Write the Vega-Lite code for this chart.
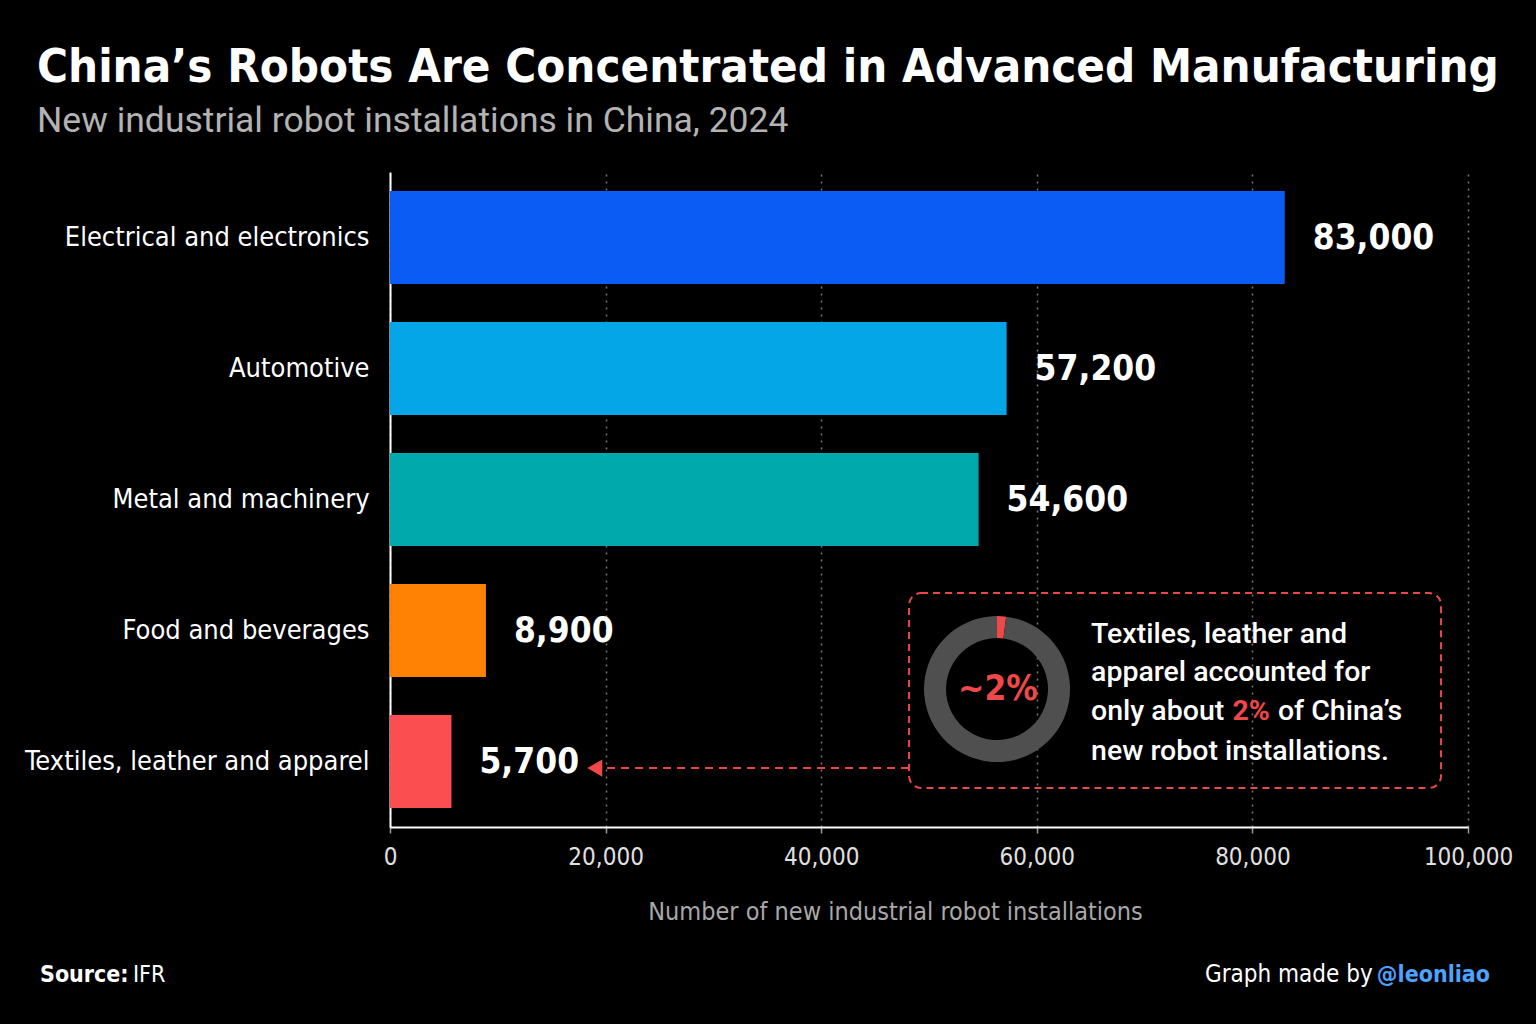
{
  "$schema": "https://vega.github.io/schema/vega-lite/v6.json",
  "width": 1078,
  "height": 655,
  "autosize": {"type": "none"},
  "padding": {"left": 390, "top": 172, "right": 68, "bottom": 197},
  "background": "#000000",
  "config": {"view": {"stroke": null}, "font": "DejaVu Sans Condensed"},
  "title": {
    "text": "China’s Robots Are Concentrated in Advanced Manufacturing",
    "subtitle": "New industrial robot installations in China, 2024",
    "anchor": "start",
    "frame": "group",
    "dx": -353,
    "font": "DejaVu Sans Condensed",
    "fontSize": 47,
    "fontWeight": "bold",
    "color": "#ffffff",
    "subtitleFont": "Roboto",
    "subtitleFontSize": 35.5,
    "subtitleColor": "#b3b3b3",
    "subtitlePadding": 12,
    "offset": 32
  },
  "datasets": {
    "sectors": [
      {"sector": "Electrical and electronics", "installations": 83000},
      {"sector": "Automotive", "installations": 57200},
      {"sector": "Metal and machinery", "installations": 54600},
      {"sector": "Food and beverages", "installations": 8900},
      {"sector": "Textiles, leather and apparel", "installations": 5700}
    ],
    "donut": [
      {"part": "Textiles, leather and apparel", "share": 2},
      {"part": "Other sectors", "share": 98}
    ]
  },
  "layer": [
    {
      "data": {"name": "sectors"},
      "encoding": {
        "y": {
          "field": "sector",
          "type": "nominal",
          "sort": null,
          "scale": {"paddingInner": 0.29, "paddingOuter": 0.145},
          "axis": {
            "title": null,
            "labelFont": "DejaVu Sans Condensed",
            "labelFontSize": 27,
            "labelColor": "#ffffff",
            "labelPadding": 21,
            "labelLimit": 400,
            "ticks": false,
            "domainColor": "#ffffff",
            "domainWidth": 2
          }
        },
        "x": {
          "field": "installations",
          "type": "quantitative",
          "scale": {"domain": [0, 100000], "nice": false},
          "axis": {
            "title": "Number of new industrial robot installations",
            "titleFont": "DejaVu Sans Condensed",
            "titleFontSize": 25,
            "titleFontWeight": "normal",
            "titleColor": "#a8a8a8",
            "titlePadding": 30,
            "titleX": 505,
            "labelFont": "DejaVu Sans Condensed",
            "labelFontSize": 24,
            "labelColor": "#e0e0e0",
            "labelPadding": 12,
            "labelFlush": false,
            "ticks": true,
            "tickSize": 6,
            "tickColor": "#9a9a9a",
            "tickWidth": 1.5,
            "domainColor": "#ffffff",
            "domainWidth": 2,
            "grid": true,
            "gridColor": "#777777",
            "gridDash": [2, 5],
            "gridWidth": 1.5,
            "values": [0, 20000, 40000, 60000, 80000, 100000],
            "format": ",.0f"
          }
        }
      },
      "layer": [
        {
          "mark": {"type": "bar"},
          "encoding": {
            "color": {
              "field": "sector",
              "type": "nominal",
              "legend": null,
              "scale": {
                "domain": ["Electrical and electronics", "Automotive", "Metal and machinery", "Food and beverages", "Textiles, leather and apparel"],
                "range": ["#0a5cf5", "#05a6e8", "#00a9ac", "#ff8205", "#fa4e50"]
              }
            }
          }
        },
        {
          "mark": {"type": "text", "align": "left", "baseline": "middle", "dx": 28, "font": "DejaVu Sans Condensed", "fontSize": 35, "fontWeight": "bold", "color": "#ffffff"},
          "encoding": {
            "text": {"field": "installations", "type": "quantitative", "format": ",.0f"}
          }
        }
      ]
    },
    {
      "data": {"values": [{"note": "callout"}]},
      "encoding": {
        "x": {"datum": 0, "type": "quantitative", "scale": {"domain": [0, 100000], "nice": false, "zero": false}, "axis": null},
        "y": {"datum": 0, "type": "quantitative", "scale": {"domain": [0, 5], "nice": false, "zero": false}, "axis": null}
      },
      "layer": [
        {
          "mark": {"type": "rect", "fill": null, "fillOpacity": 0, "stroke": "#e84848", "strokeWidth": 2, "strokeDash": [7, 5], "cornerRadius": 12},
          "encoding": {
            "x": {"datum": 48150, "type": "quantitative", "axis": null},
            "x2": {"datum": 97500},
            "y": {"datum": 1.786, "type": "quantitative", "axis": null},
            "y2": {"datum": 0.298}
          }
        },
        {
          "mark": {"type": "rule", "stroke": "#e84848", "strokeWidth": 2, "strokeDash": [8, 6]},
          "encoding": {
            "x": {"datum": 48150, "type": "quantitative", "axis": null},
            "x2": {"datum": 19600},
            "y": {"datum": 0.45, "type": "quantitative", "axis": null}
          }
        },
        {
          "mark": {"type": "point", "shape": "triangle-left", "filled": true, "size": 300, "color": "#f04848", "opacity": 1},
          "encoding": {
            "x": {"datum": 19000, "type": "quantitative", "axis": null},
            "y": {"datum": 0.45, "type": "quantitative", "axis": null}
          }
        },
        {
          "data": {"name": "donut"},
          "mark": {"type": "arc", "outerRadius": 73, "innerRadius": 51},
          "encoding": {
            "x": {"datum": 56310, "type": "quantitative", "axis": null},
            "y": {"datum": 1.053, "type": "quantitative", "axis": null},
            "theta": {"field": "share", "type": "quantitative", "stack": true},
            "order": {"field": "part", "sort": "descending"},
            "color": {
              "field": "part",
              "type": "nominal",
              "legend": null,
              "scale": {"domain": ["Textiles, leather and apparel", "Other sectors"], "range": ["#f04848", "#4f4f4f"]}
            }
          }
        },
        {
          "mark": {"type": "text", "align": "center", "baseline": "middle", "font": "DejaVu Sans Condensed", "fontSize": 35, "fontWeight": "bold", "color": "#f04848", "text": "~2%"},
          "encoding": {
            "x": {"datum": 56400, "type": "quantitative", "axis": null},
            "y": {"datum": 1.053, "type": "quantitative", "axis": null}
          }
        },
        {
          "mark": {"type": "text", "align": "left", "baseline": "alphabetic", "font": "Roboto", "fontSize": 28.5, "fontWeight": 500, "color": "#ffffff", "text": "Textiles, leather and"},
          "encoding": {
            "x": {"datum": 65030, "type": "quantitative", "axis": null},
            "y": {"datum": 1.405, "type": "quantitative", "axis": null}
          }
        },
        {
          "mark": {"type": "text", "align": "left", "baseline": "alphabetic", "font": "Roboto", "fontSize": 28.5, "fontWeight": 500, "color": "#ffffff", "text": "apparel accounted for"},
          "encoding": {
            "x": {"datum": 65030, "type": "quantitative", "axis": null},
            "y": {"datum": 1.115, "type": "quantitative", "axis": null}
          }
        },
        {
          "mark": {"type": "text", "align": "left", "baseline": "alphabetic", "font": "Roboto", "fontSize": 28.5, "fontWeight": 500, "color": "#ffffff", "text": "only about"},
          "encoding": {
            "x": {"datum": 65030, "type": "quantitative", "axis": null},
            "y": {"datum": 0.817, "type": "quantitative", "axis": null}
          }
        },
        {
          "mark": {"type": "text", "align": "left", "baseline": "alphabetic", "font": "Roboto", "fontSize": 28.5, "fontWeight": "bold", "color": "#f04848", "text": "2%"},
          "encoding": {
            "x": {"datum": 78150, "type": "quantitative", "axis": null},
            "y": {"datum": 0.817, "type": "quantitative", "axis": null}
          }
        },
        {
          "mark": {"type": "text", "align": "left", "baseline": "alphabetic", "font": "Roboto", "fontSize": 28.5, "fontWeight": 500, "color": "#ffffff", "text": "of China’s"},
          "encoding": {
            "x": {"datum": 82370, "type": "quantitative", "axis": null},
            "y": {"datum": 0.817, "type": "quantitative", "axis": null}
          }
        },
        {
          "mark": {"type": "text", "align": "left", "baseline": "alphabetic", "font": "Roboto", "fontSize": 28.5, "fontWeight": 500, "color": "#ffffff", "text": "new robot installations."},
          "encoding": {
            "x": {"datum": 65030, "type": "quantitative", "axis": null},
            "y": {"datum": 0.511, "type": "quantitative", "axis": null}
          }
        },
        {
          "mark": {"type": "text", "align": "left", "baseline": "alphabetic", "font": "DejaVu Sans Condensed", "fontSize": 23, "fontWeight": "bold", "color": "#ffffff", "text": "Source:"},
          "encoding": {
            "x": {"datum": -32470, "type": "quantitative", "axis": null},
            "y": {"datum": -1.183, "type": "quantitative", "axis": null}
          }
        },
        {
          "mark": {"type": "text", "align": "left", "baseline": "alphabetic", "font": "DejaVu Sans Condensed", "fontSize": 23, "color": "#ffffff", "text": "IFR"},
          "encoding": {
            "x": {"datum": -23840, "type": "quantitative", "axis": null},
            "y": {"datum": -1.183, "type": "quantitative", "axis": null}
          }
        },
        {
          "mark": {"type": "text", "align": "left", "baseline": "alphabetic", "font": "DejaVu Sans Condensed", "fontSize": 24, "color": "#ffffff", "text": "Graph made by"},
          "encoding": {
            "x": {"datum": 75600, "type": "quantitative", "axis": null},
            "y": {"datum": -1.183, "type": "quantitative", "axis": null}
          }
        },
        {
          "mark": {"type": "text", "align": "right", "baseline": "alphabetic", "font": "DejaVu Sans Condensed", "fontSize": 23, "fontWeight": "bold", "color": "#4da3ff", "text": "@leonliao"},
          "encoding": {
            "x": {"datum": 102040, "type": "quantitative", "axis": null},
            "y": {"datum": -1.183, "type": "quantitative", "axis": null}
          }
        }
      ]
    }
  ],
  "resolve": {"scale": {"x": "independent", "y": "independent", "color": "independent"}}
}
